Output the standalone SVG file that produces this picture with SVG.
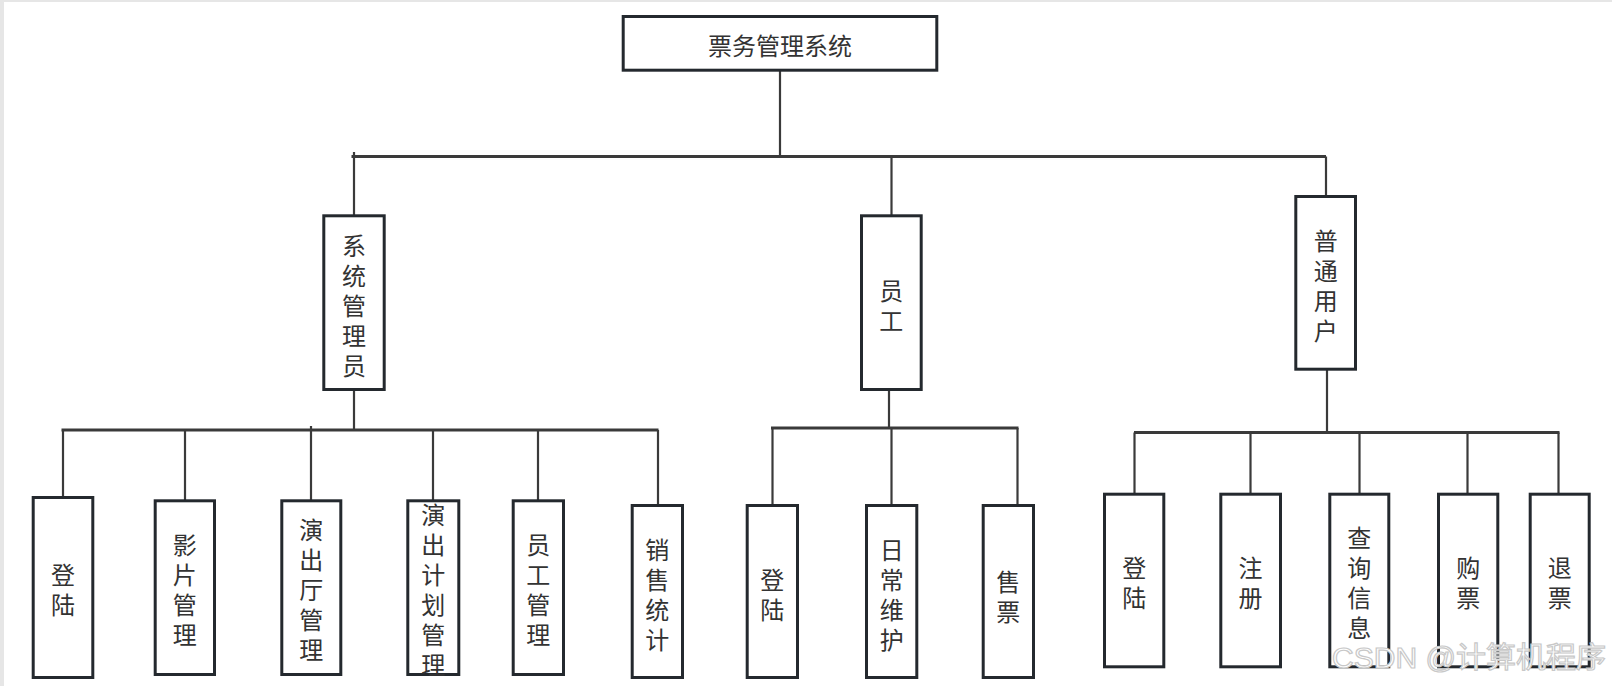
<svg xmlns="http://www.w3.org/2000/svg" width="1612" height="686" viewBox="0 0 1612 686">
<style>
.box{fill:#ffffff;stroke:#24292e;stroke-width:3}
.lbl{font-family:"Noto Sans CJK SC","Noto Sans",sans-serif;font-size:24px;fill:#333333;text-anchor:middle;dominant-baseline:central}
.bus{stroke:#3a3a3a;stroke-width:3;fill:none}
.v{stroke:#3a3a3a;stroke-width:2.2;fill:none}
.wm{font-family:"Liberation Sans","Noto Sans CJK SC",sans-serif;font-size:29px;fill:#ffffff;stroke:#c8c8c8;stroke-width:1.2}
</style>
<rect x="0" y="0" width="1612" height="686" fill="#e6e6e6"/>
<rect x="4" y="2" width="1608" height="684" fill="#ffffff"/>

<g id="connectors">
  <line class="v" x1="780" y1="71" x2="780" y2="156.5"/>
  <line class="bus" x1="351.5" y1="156.5" x2="1326" y2="156.5"/>
  <line class="v" x1="354" y1="152" x2="354" y2="215"/>
  <line class="v" x1="891.5" y1="156.5" x2="891.5" y2="215"/>
  <line class="v" x1="1326" y1="156.5" x2="1326" y2="196"/>

  <line class="v" x1="354" y1="390" x2="354" y2="430"/>
  <line class="bus" x1="61.5" y1="430" x2="658.5" y2="430"/>
  <line class="v" x1="63" y1="430" x2="63" y2="497"/>
  <line class="v" x1="185" y1="430" x2="185" y2="500"/>
  <line class="v" x1="311" y1="426" x2="311" y2="500"/>
  <line class="v" x1="433" y1="430" x2="433" y2="500"/>
  <line class="v" x1="538" y1="430" x2="538" y2="500"/>
  <line class="v" x1="658" y1="430" x2="658" y2="505"/>

  <line class="v" x1="889" y1="390" x2="889" y2="428"/>
  <line class="bus" x1="771" y1="428" x2="1018.5" y2="428"/>
  <line class="v" x1="772.5" y1="428" x2="772.5" y2="505"/>
  <line class="v" x1="891.5" y1="428" x2="891.5" y2="505"/>
  <line class="v" x1="1017.5" y1="428" x2="1017.5" y2="505"/>

  <line class="v" x1="1327" y1="370" x2="1327" y2="432.5"/>
  <line class="bus" x1="1134" y1="432.5" x2="1559.5" y2="432.5"/>
  <line class="v" x1="1134.5" y1="432.5" x2="1134.5" y2="494"/>
  <line class="v" x1="1250.5" y1="432.5" x2="1250.5" y2="494"/>
  <line class="v" x1="1359.5" y1="432.5" x2="1359.5" y2="494"/>
  <line class="v" x1="1467.5" y1="432.5" x2="1467.5" y2="494"/>
  <line class="v" x1="1558.5" y1="432.5" x2="1558.5" y2="494"/>
</g>

<g id="root">
  <rect class="box" x="623.2" y="16.5" width="313.6" height="53.7"/>
  <text class="lbl" x="780" y="44">票务管理系统</text>
</g>

<g id="admin">
  <rect class="box" x="323.8" y="215.8" width="60.4" height="173.7"/>
  <text class="lbl"><tspan x="354" y="243.5">系</tspan><tspan x="354" y="273.5">统</tspan><tspan x="354" y="303.5">管</tspan><tspan x="354" y="333.5">理</tspan><tspan x="354" y="363.5">员</tspan></text>
</g>
<g id="staff">
  <rect class="box" x="861.5" y="215.8" width="59.7" height="173.7"/>
  <text class="lbl"><tspan x="891.3" y="288.5">员</tspan><tspan x="891.3" y="318.5">工</tspan></text>
</g>
<g id="user">
  <rect class="box" x="1295.8" y="196.5" width="59.7" height="172.7"/>
  <text class="lbl"><tspan x="1325.7" y="238.5">普</tspan><tspan x="1325.7" y="268.5">通</tspan><tspan x="1325.7" y="298.5">用</tspan><tspan x="1325.7" y="328.5">户</tspan></text>
</g>

<g id="a-login">
  <rect class="box" x="33.2" y="497.5" width="59.6" height="180"/>
  <text class="lbl"><tspan x="63" y="573">登</tspan><tspan x="63" y="603">陆</tspan></text>
</g>
<g id="a-film">
  <rect class="box" x="155.2" y="500.8" width="59.3" height="173.7"/>
  <text class="lbl"><tspan x="184.8" y="543">影</tspan><tspan x="184.8" y="573">片</tspan><tspan x="184.8" y="603">管</tspan><tspan x="184.8" y="633">理</tspan></text>
</g>
<g id="a-hall">
  <rect class="box" x="281.8" y="500.8" width="59" height="173.7"/>
  <text class="lbl"><tspan x="311.3" y="528">演</tspan><tspan x="311.3" y="558">出</tspan><tspan x="311.3" y="588">厅</tspan><tspan x="311.3" y="618">管</tspan><tspan x="311.3" y="648">理</tspan></text>
</g>
<g id="a-plan">
  <rect class="box" x="407.8" y="500.8" width="51" height="173.7"/>
  <text class="lbl"><tspan x="433.3" y="513">演</tspan><tspan x="433.3" y="543">出</tspan><tspan x="433.3" y="573">计</tspan><tspan x="433.3" y="603">划</tspan><tspan x="433.3" y="633">管</tspan><tspan x="433.3" y="663">理</tspan></text>
</g>
<g id="a-staff">
  <rect class="box" x="513.2" y="500.8" width="50.3" height="173.7"/>
  <text class="lbl"><tspan x="538.3" y="543">员</tspan><tspan x="538.3" y="573">工</tspan><tspan x="538.3" y="603">管</tspan><tspan x="538.3" y="633">理</tspan></text>
</g>
<g id="a-sales">
  <rect class="box" x="632.2" y="505.5" width="50.3" height="172"/>
  <text class="lbl"><tspan x="657.3" y="547.5">销</tspan><tspan x="657.3" y="577.5">售</tspan><tspan x="657.3" y="607.5">统</tspan><tspan x="657.3" y="637.5">计</tspan></text>
</g>

<g id="s-login">
  <rect class="box" x="747.2" y="505.5" width="50.3" height="172"/>
  <text class="lbl"><tspan x="772.3" y="578">登</tspan><tspan x="772.3" y="608">陆</tspan></text>
</g>
<g id="s-maint">
  <rect class="box" x="866.5" y="505.5" width="50.3" height="172"/>
  <text class="lbl"><tspan x="891.7" y="548">日</tspan><tspan x="891.7" y="578">常</tspan><tspan x="891.7" y="608">维</tspan><tspan x="891.7" y="638">护</tspan></text>
</g>
<g id="s-sell">
  <rect class="box" x="983.2" y="505.5" width="50.3" height="172"/>
  <text class="lbl"><tspan x="1008.3" y="580">售</tspan><tspan x="1008.3" y="610">票</tspan></text>
</g>

<g id="u-login">
  <rect class="box" x="1104.5" y="494.2" width="59.3" height="172.6"/>
  <text class="lbl"><tspan x="1134.2" y="566">登</tspan><tspan x="1134.2" y="596">陆</tspan></text>
</g>
<g id="u-reg">
  <rect class="box" x="1220.8" y="494.2" width="59.7" height="172.6"/>
  <text class="lbl"><tspan x="1250.6" y="566">注</tspan><tspan x="1250.6" y="596">册</tspan></text>
</g>
<g id="u-query">
  <rect class="box" x="1329.8" y="494.2" width="59" height="172.6"/>
  <text class="lbl"><tspan x="1359.3" y="536">查</tspan><tspan x="1359.3" y="566">询</tspan><tspan x="1359.3" y="596">信</tspan><tspan x="1359.3" y="626">息</tspan></text>
</g>
<g id="u-buy">
  <rect class="box" x="1438.5" y="494.2" width="59.3" height="172.6"/>
  <text class="lbl"><tspan x="1468.2" y="566">购</tspan><tspan x="1468.2" y="596">票</tspan></text>
</g>
<g id="u-refund">
  <rect class="box" x="1530.2" y="494.2" width="59" height="172.6"/>
  <text class="lbl"><tspan x="1559.7" y="566">退</tspan><tspan x="1559.7" y="596">票</tspan></text>
</g>

<text class="wm" x="1332" y="668" textLength="274" lengthAdjust="spacingAndGlyphs">CSDN @计算机程序</text>
</svg>
